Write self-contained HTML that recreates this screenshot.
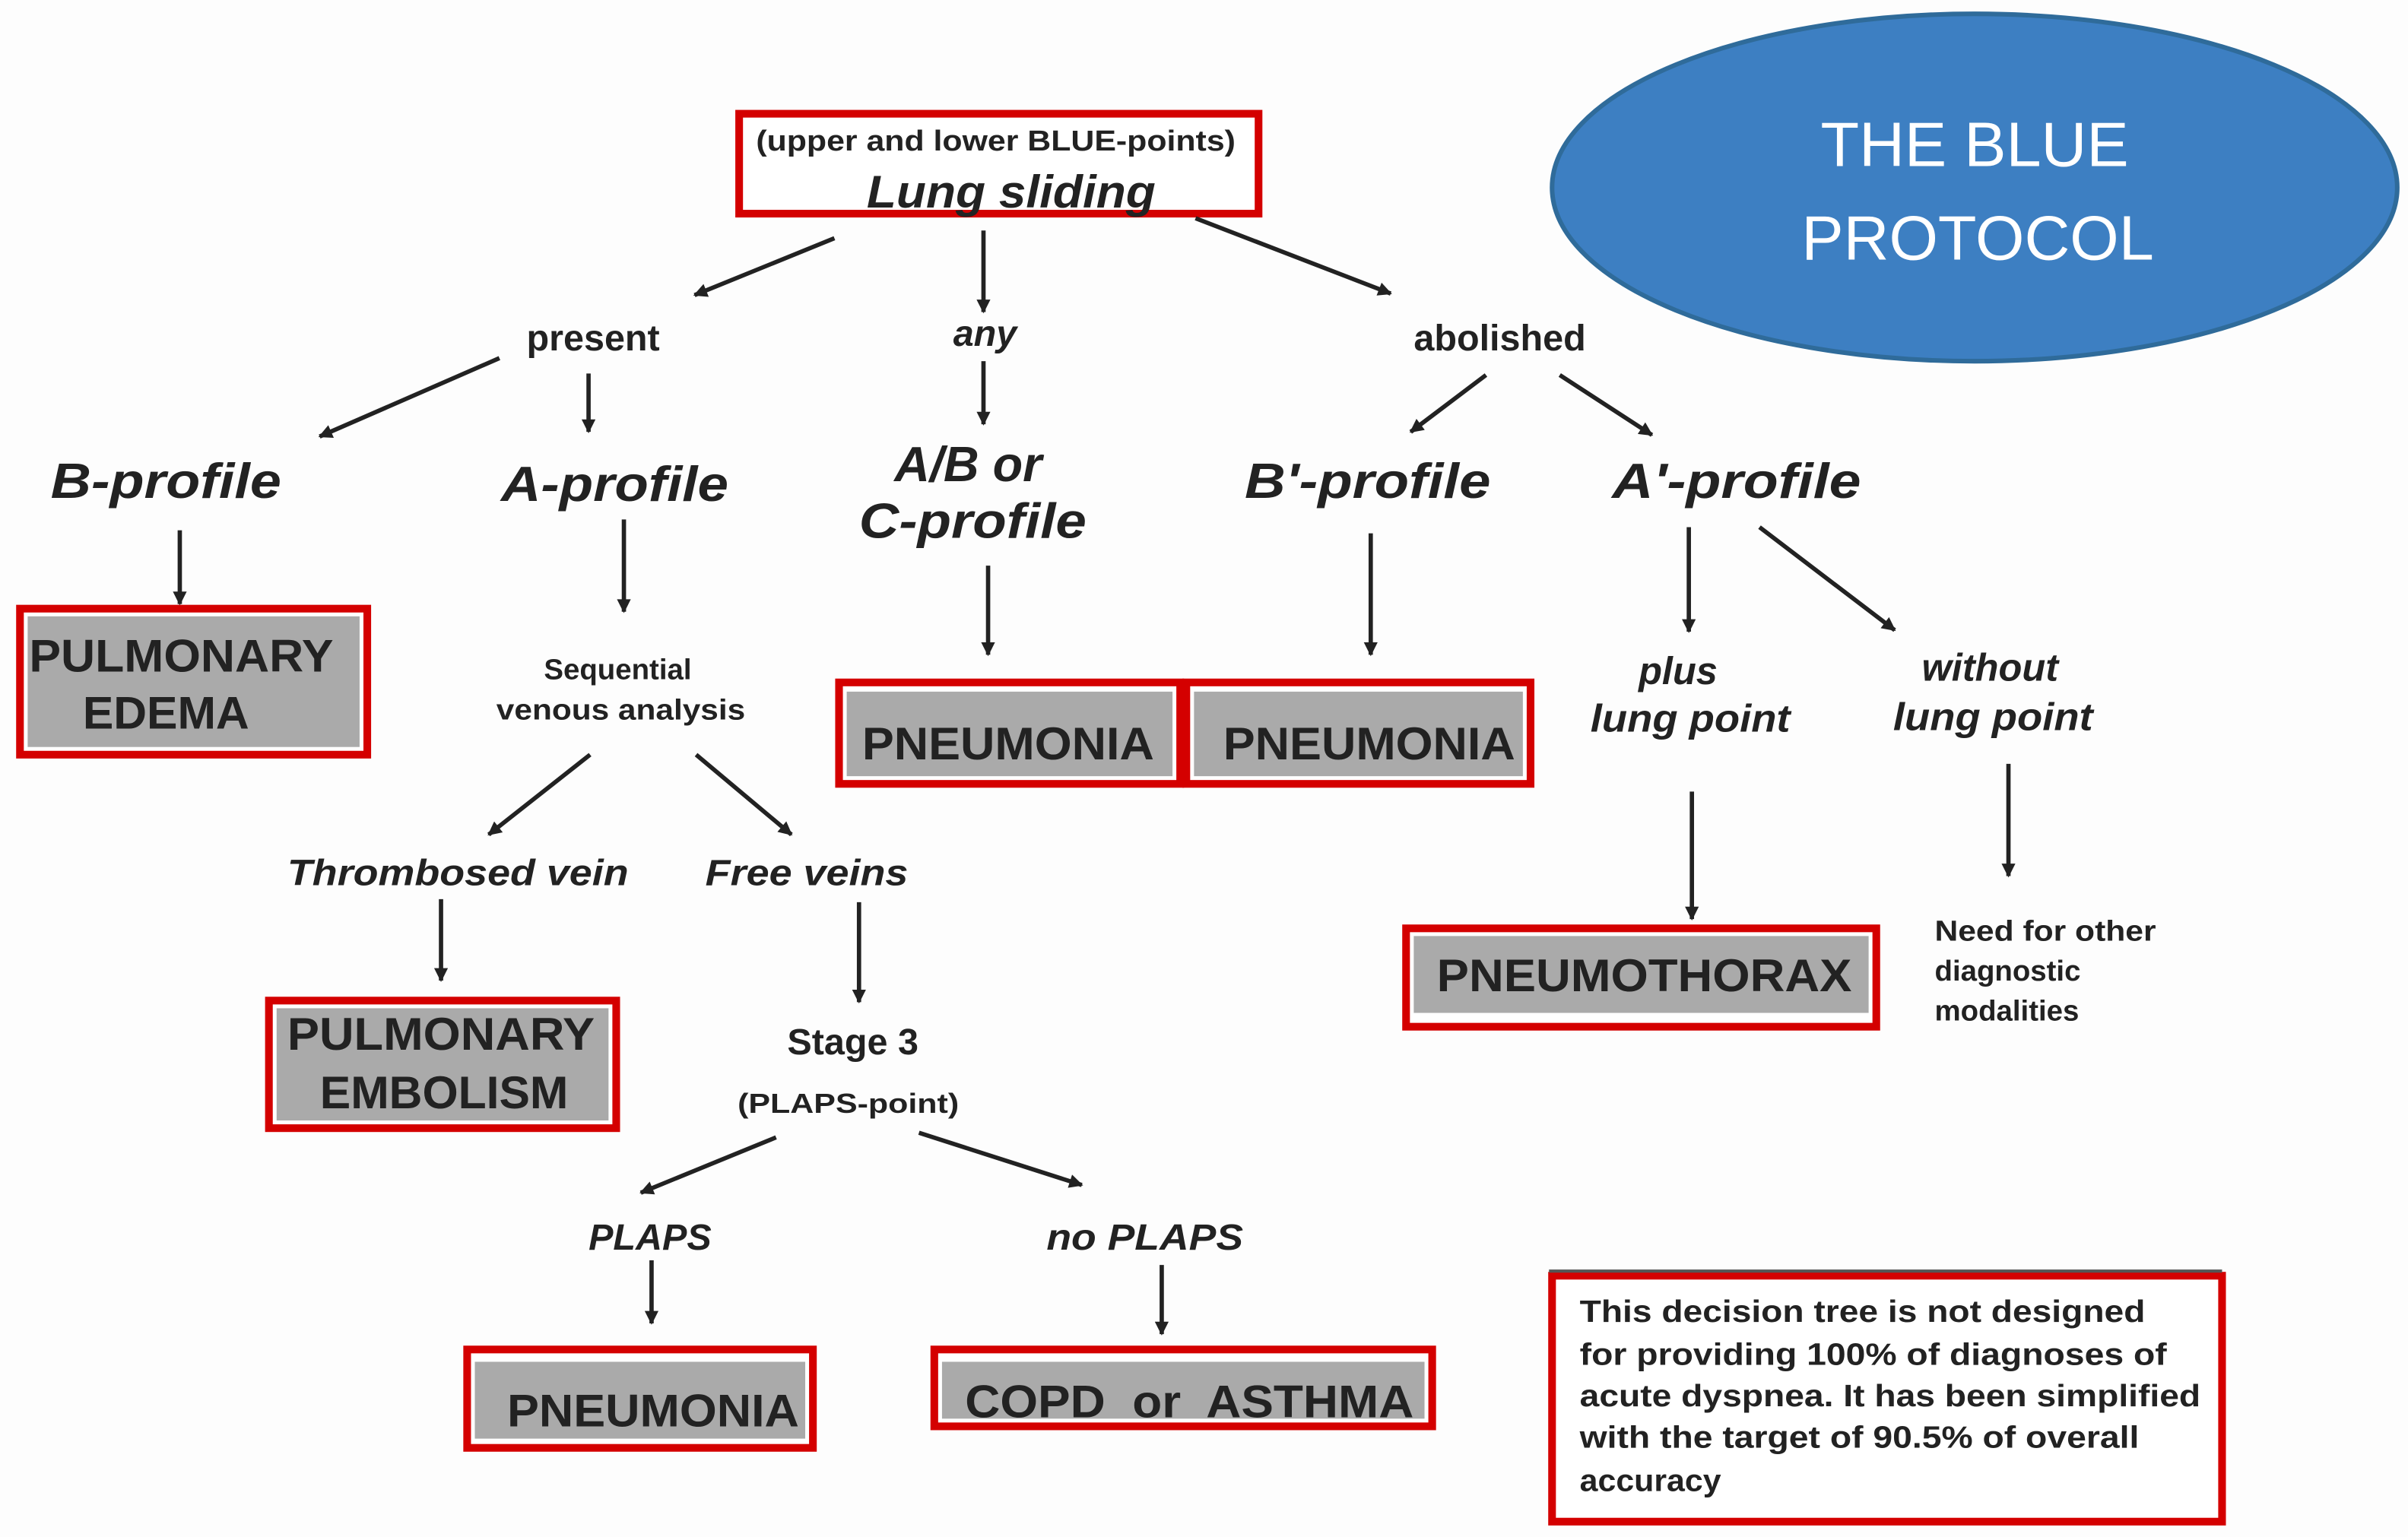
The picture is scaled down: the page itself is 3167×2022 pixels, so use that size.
<!DOCTYPE html>
<html><head><meta charset="utf-8"><style>
html,body{margin:0;padding:0;background:#fdfdfd;}
svg{display:block;}
text{font-family:"Liberation Sans",sans-serif;font-weight:bold;fill:#222;}
.it{font-style:italic;}
</style></head><body>
<svg width="3167" height="2022" viewBox="0 0 1567 1000" preserveAspectRatio="none" xmlns="http://www.w3.org/2000/svg">
<defs>
<marker id="a" viewBox="0 0 10 10" refX="9" refY="5" markerWidth="12" markerHeight="9" orient="auto" markerUnits="userSpaceOnUse">
<path d="M0,0 L10,5 L0,10 z" fill="#222"/></marker>
</defs>
<rect width="1567" height="1000" fill="#fdfdfd"/>
<ellipse cx="1285" cy="122" rx="275" ry="113" fill="#3d7fc2" stroke="#2f6b9a" stroke-width="3"/>
<text x="1285" y="108" text-anchor="middle" style="font-weight:normal;fill:#fff;font-size:41px">THE BLUE</text>
<text x="1287" y="169" text-anchor="middle" style="font-weight:normal;fill:#fff;font-size:41px">PROTOCOL</text>
<rect x="481" y="74" width="338" height="65" fill="#fff" stroke="#d40000" stroke-width="5"/>
<text x="648" y="98" text-anchor="middle" font-size="19" textLength="312" lengthAdjust="spacingAndGlyphs">(upper and lower BLUE-points)</text>
<text x="658" y="135" text-anchor="middle" class="it" font-size="30" textLength="188" lengthAdjust="spacingAndGlyphs">Lung sliding</text>
<g stroke="#222" stroke-width="2.8" fill="none" marker-end="url(#a)">
<line x1="543" y1="155" x2="452" y2="192"/>
<line x1="640" y1="150" x2="640" y2="203" marker-end=""/>
<line x1="640" y1="235" x2="640" y2="276"/>
<line x1="778" y1="142" x2="905" y2="191"/>
<line x1="325" y1="233" x2="208" y2="284"/>
<line x1="383" y1="243" x2="383" y2="281"/>
<line x1="967" y1="244" x2="918" y2="281"/>
<line x1="1015" y1="244" x2="1075" y2="283"/>
<line x1="117" y1="345" x2="117" y2="393"/>
<line x1="406" y1="338" x2="406" y2="398"/>
<line x1="643" y1="368" x2="643" y2="426"/>
<line x1="892" y1="347" x2="892" y2="426"/>
<line x1="1099" y1="343" x2="1099" y2="411"/>
<line x1="1145" y1="343" x2="1233" y2="410"/>
<line x1="1101" y1="515" x2="1101" y2="598"/>
<line x1="1307" y1="497" x2="1307" y2="570"/>
<line x1="384" y1="491" x2="318" y2="543"/>
<line x1="453" y1="491" x2="515" y2="543"/>
<line x1="287" y1="585" x2="287" y2="638"/>
<line x1="559" y1="587" x2="559" y2="652"/>
<line x1="505" y1="740" x2="417" y2="776"/>
<line x1="598" y1="737" x2="704" y2="771"/>
<line x1="424" y1="820" x2="424" y2="861"/>
<line x1="756" y1="823" x2="756" y2="868"/>
</g>
<text x="386" y="228" text-anchor="middle" font-size="24">present</text>
<text x="641" y="225" text-anchor="middle" class="it" font-size="24">any</text>
<text x="976" y="228" text-anchor="middle" font-size="24">abolished</text>
<g class="it" font-size="32" text-anchor="middle">
<text x="108" y="324" textLength="150" lengthAdjust="spacingAndGlyphs">B-profile</text>
<text x="400" y="326" textLength="148" lengthAdjust="spacingAndGlyphs">A-profile</text>
<text x="630" y="313">A/B or</text>
<text x="633" y="350" textLength="148" lengthAdjust="spacingAndGlyphs">C-profile</text>
<text x="890" y="324" textLength="160" lengthAdjust="spacingAndGlyphs">B'-profile</text>
<text x="1130" y="324" textLength="162" lengthAdjust="spacingAndGlyphs">A'-profile</text>
</g>
<g font-size="19" text-anchor="middle" style="fill:#444">
<text x="402" y="442">Sequential</text>
<text x="404" y="468" textLength="162" lengthAdjust="spacingAndGlyphs">venous analysis</text>
</g>
<g class="it" font-size="25" text-anchor="middle">
<text x="1092" y="445">plus</text>
<text x="1100" y="476" textLength="130" lengthAdjust="spacingAndGlyphs">lung point</text>
<text x="1295" y="443">without</text>
<text x="1297" y="475" textLength="130" lengthAdjust="spacingAndGlyphs">lung point</text>
<text x="298" y="576" font-size="24" textLength="222" lengthAdjust="spacingAndGlyphs">Thrombosed vein</text>
<text x="525" y="576" font-size="24" textLength="132" lengthAdjust="spacingAndGlyphs">Free veins</text>
<text x="423" y="813" font-size="24">PLAPS</text>
<text x="745" y="813" font-size="24" textLength="128" lengthAdjust="spacingAndGlyphs">no PLAPS</text>
</g>
<text x="555" y="686" text-anchor="middle" font-size="24">Stage 3</text>
<text x="552" y="724" text-anchor="middle" font-size="18" textLength="144" lengthAdjust="spacingAndGlyphs">(PLAPS-point)</text>
<g font-size="19" style="fill:#333">
<text x="1259" y="612" textLength="144" lengthAdjust="spacingAndGlyphs">Need for other</text>
<text x="1259" y="638">diagnostic</text>
<text x="1259" y="664">modalities</text>
</g>
<g stroke="#d40000" stroke-width="5" fill="#fff">
<rect x="13" y="396" width="226" height="95"/>
<rect x="546" y="444" width="222" height="66"/>
<rect x="772" y="444" width="224" height="66"/>
<rect x="915" y="604" width="306" height="64"/>
<rect x="175" y="651" width="226" height="83"/>
<rect x="304" y="878" width="225" height="64"/>
<rect x="608" y="878" width="324" height="50"/>
</g>
<g fill="#aaa">
<rect x="18" y="401" width="216" height="85"/>
<rect x="551" y="450" width="212" height="55"/>
<rect x="777" y="450" width="214" height="55"/>
<rect x="920" y="609" width="296" height="50"/>
<rect x="180" y="656" width="216" height="73"/>
<rect x="309" y="886" width="215" height="50"/>
<rect x="613" y="886" width="314" height="37"/>
</g>
<g font-size="30" text-anchor="middle" style="fill:#111">
<text x="118" y="437" textLength="198" lengthAdjust="spacingAndGlyphs">PULMONARY</text>
<text x="108" y="474">EDEMA</text>
<text x="656" y="494" textLength="190" lengthAdjust="spacingAndGlyphs">PNEUMONIA</text>
<text x="891" y="494" textLength="190" lengthAdjust="spacingAndGlyphs">PNEUMONIA</text>
<text x="1070" y="645" textLength="270" lengthAdjust="spacingAndGlyphs">PNEUMOTHORAX</text>
<text x="287" y="683" textLength="200" lengthAdjust="spacingAndGlyphs">PULMONARY</text>
<text x="289" y="721">EMBOLISM</text>
<text x="425" y="928" textLength="190" lengthAdjust="spacingAndGlyphs">PNEUMONIA</text>
<text x="774" y="922" xml:space="preserve" textLength="292" lengthAdjust="spacingAndGlyphs">COPD  or  ASTHMA</text>
</g>
<rect x="1010" y="830" width="436" height="160" fill="#fff" stroke="#d40000" stroke-width="5"/>
<line x1="1008" y1="827" x2="1446" y2="827" stroke="#555" stroke-width="2"/>
<g font-size="20" style="fill:#3a3a55" lengthAdjust="spacingAndGlyphs">
<text x="1028" y="860" textLength="368" lengthAdjust="spacingAndGlyphs">This decision tree is not designed</text>
<text x="1028" y="888" textLength="382" lengthAdjust="spacingAndGlyphs">for providing 100% of diagnoses of</text>
<text x="1028" y="915" textLength="404" lengthAdjust="spacingAndGlyphs">acute dyspnea. It has been simplified</text>
<text x="1028" y="942" textLength="364" lengthAdjust="spacingAndGlyphs">with the target of 90.5% of overall</text>
<text x="1028" y="970" textLength="92" lengthAdjust="spacingAndGlyphs">accuracy</text>
</g>
</svg>
</body></html>
